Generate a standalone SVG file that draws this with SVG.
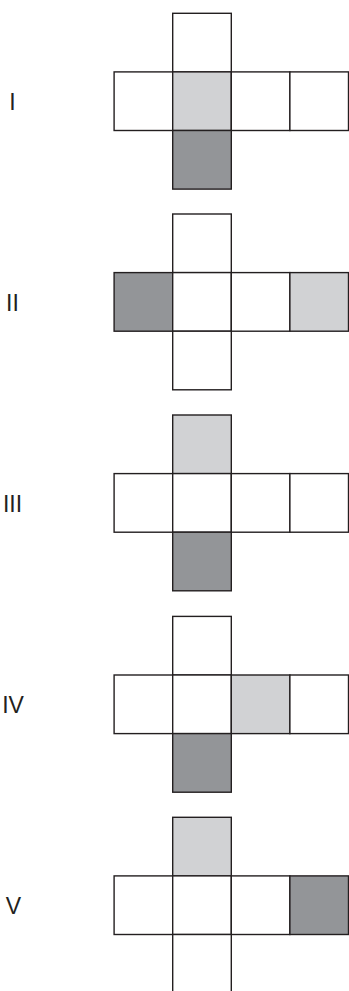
<svg xmlns="http://www.w3.org/2000/svg" width="349" height="991" viewBox="0 0 349 991">
<style>
.c{fill:#ffffff;stroke:#231f20;stroke-width:1.4}
.l{fill:#d1d2d4}
.d{fill:#939598}
.t{font-family:"Liberation Sans",Arial,sans-serif;font-size:23px;fill:#231f20;text-anchor:middle}
</style>
<defs>
<rect id="sq" width="58.6" height="58.6"/>
</defs>
<rect width="349" height="991" fill="#ffffff"/>
<g id="fig1">
<text class="t" x="12.5" y="109.5">I</text>
<rect class="c" x="172.7" y="13.3" width="58.6" height="58.6"/>
<rect class="c" x="114.1" y="71.9" width="58.6" height="58.6"/>
<rect class="c l" x="172.7" y="71.9" width="58.6" height="58.6"/>
<rect class="c" x="231.3" y="71.9" width="58.6" height="58.6"/>
<rect class="c" x="289.9" y="71.9" width="58.6" height="58.6"/>
<rect class="c d" x="172.7" y="130.5" width="58.6" height="58.6"/>
</g>
<g id="fig2">
<text class="t" x="12.5" y="310.5">II</text>
<rect class="c" x="172.7" y="214" width="58.6" height="58.6"/>
<rect class="c d" x="114.1" y="272.6" width="58.6" height="58.6"/>
<rect class="c" x="172.7" y="272.6" width="58.6" height="58.6"/>
<rect class="c" x="231.3" y="272.6" width="58.6" height="58.6"/>
<rect class="c l" x="289.9" y="272.6" width="58.6" height="58.6"/>
<rect class="c" x="172.7" y="331.2" width="58.6" height="58.6"/>
</g>
<g id="fig3">
<text class="t" x="12.5" y="511.5">III</text>
<rect class="c l" x="172.7" y="415" width="58.6" height="58.6"/>
<rect class="c" x="114.1" y="473.6" width="58.6" height="58.6"/>
<rect class="c" x="172.7" y="473.6" width="58.6" height="58.6"/>
<rect class="c" x="231.3" y="473.6" width="58.6" height="58.6"/>
<rect class="c" x="289.9" y="473.6" width="58.6" height="58.6"/>
<rect class="c d" x="172.7" y="532.2" width="58.6" height="58.6"/>
</g>
<g id="fig4">
<text class="t" x="13" y="712.5">IV</text>
<rect class="c" x="172.7" y="616.4" width="58.6" height="58.6"/>
<rect class="c" x="114.1" y="675" width="58.6" height="58.6"/>
<rect class="c" x="172.7" y="675" width="58.6" height="58.6"/>
<rect class="c l" x="231.3" y="675" width="58.6" height="58.6"/>
<rect class="c" x="289.9" y="675" width="58.6" height="58.6"/>
<rect class="c d" x="172.7" y="733.6" width="58.6" height="58.6"/>
</g>
<g id="fig5">
<text class="t" x="13.5" y="914">V</text>
<rect class="c l" x="172.7" y="817.3" width="58.6" height="58.6"/>
<rect class="c" x="114.1" y="875.9" width="58.6" height="58.6"/>
<rect class="c" x="172.7" y="875.9" width="58.6" height="58.6"/>
<rect class="c" x="231.3" y="875.9" width="58.6" height="58.6"/>
<rect class="c d" x="289.9" y="875.9" width="58.6" height="58.6"/>
<rect class="c" x="172.7" y="934.5" width="58.6" height="58.6"/>
</g>
</svg>
